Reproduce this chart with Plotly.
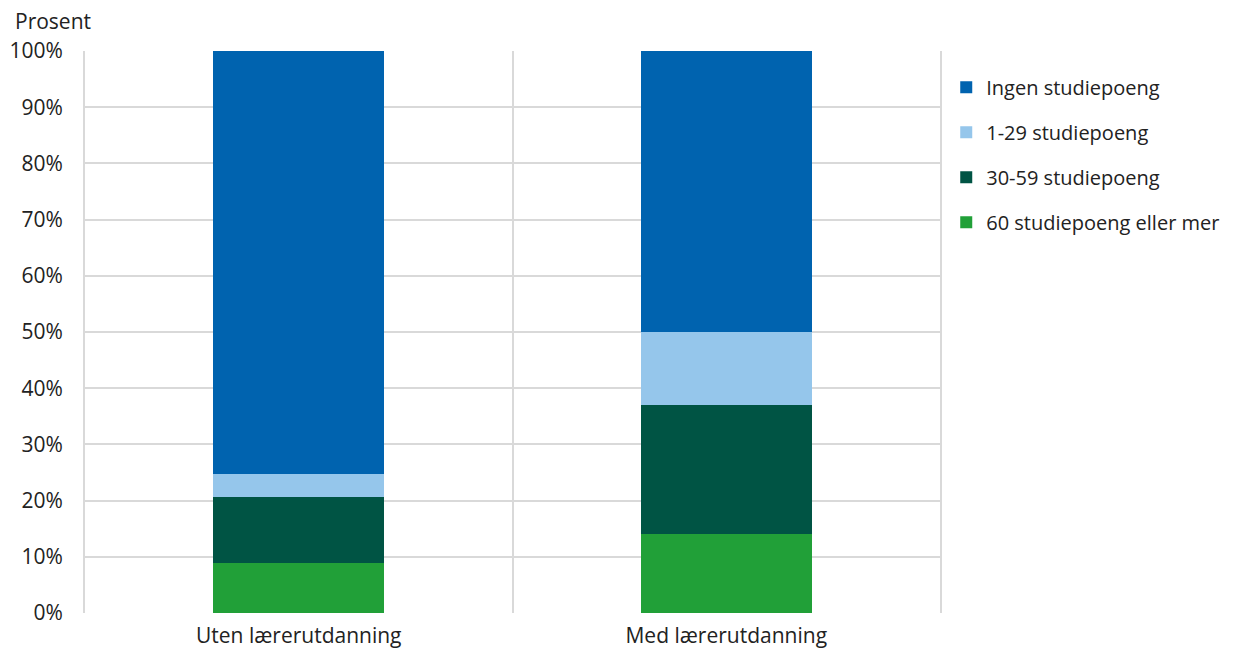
import plotly.graph_objects as go

categories = ["Uten lærerutdanning", "Med lærerutdanning"]
series_names = ["60 studiepoeng eller mer", "30-59 studiepoeng", "1-29 studiepoeng", "Ingen studiepoeng"]
v60 = [8.9, 14.0]
v30 = [11.8, 23.0]
v1 = [4.0, 13.0]
v0 = [75.3, 50.0]
colors = ["#21a038", "#005444", "#95c6eb", "#0063af"]
tick_vals = [0, 10, 20, 30, 40, 50, 60, 70, 80, 90, 100]
tick_text = [f"{t}%" for t in tick_vals]

fig = go.Figure()
for i, (name, vals, col) in enumerate(zip(series_names, [v60, v30, v1, v0], colors)):
    fig.add_trace(go.Bar(x=categories, y=vals, name=name, marker=dict(color=col, line=dict(width=0)),
                         width=0.4, legendgroup=name, legendrank=10 - i))

font = "Open Sans, Noto Sans, sans-serif"
fig.update_layout(
    barmode="stack",
    width=1234, height=640,
    margin=dict(l=77, r=302, t=43, b=35),
    plot_bgcolor="white", paper_bgcolor="white",
    font=dict(family=font, size=21, color="#222222"),
    showlegend=True,
    legend=dict(x=1.0073, xanchor="left", y=0.97, yanchor="top", traceorder="grouped",
                tracegroupgap=16, font=dict(size=20, color="#222222")),
    xaxis=dict(type="category", tickson="boundaries", showgrid=True, gridcolor="#d9d9d9", gridwidth=2,
               ticks="", showline=False, zeroline=False, tickfont=dict(size=21), ticklabelstandoff=8,
               automargin=False),
    yaxis=dict(range=[0, 100], tickvals=tick_vals, ticktext=tick_text, showgrid=True, gridcolor="#d9d9d9",
               gridwidth=2, zeroline=False, showline=True, mirror=True, linecolor="#d9d9d9", linewidth=2,
               ticks="", tickfont=dict(size=21), ticklabelstandoff=16, automargin=False),
    annotations=[dict(text="Prosent", xref="paper", yref="paper", x=-72/855, y=1, xanchor="left",
                      yanchor="bottom", yshift=14, showarrow=False, font=dict(size=21, color="#222222"))],
)
fig.write_html("out.html")
